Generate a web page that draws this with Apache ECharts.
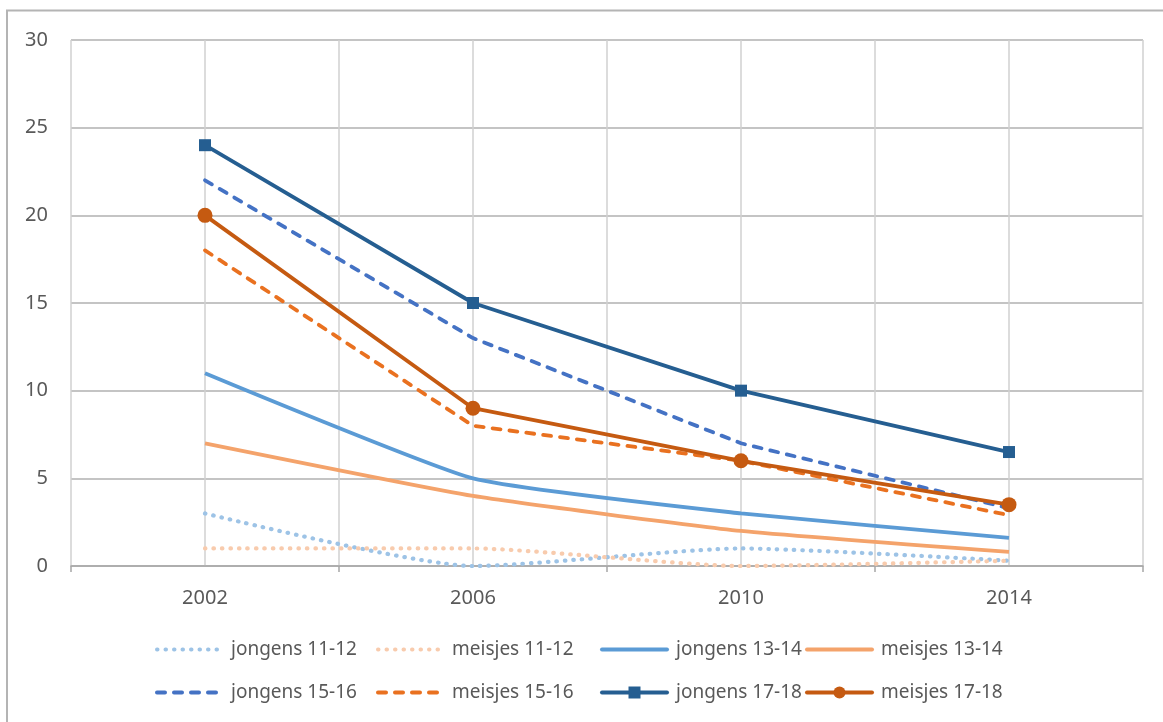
<!DOCTYPE html>
<html>
<head>
<meta charset="utf-8">
<script src="https://cdn.jsdelivr.net/npm/echarts@6/dist/echarts.min.js"></script>
<style>
html,body{margin:0;padding:0;background:#fff;}
#chart{width:1163px;height:722px;}
</style>
</head>
<body>
<div id="chart"></div>
<script>
const years = ['2002', '2006', '2010', '2014'];
const jongens1112 = [3, 0, 1, 0.3];
const meisjes1112 = [1, 1, 0, 0.3];
const jongens1314 = [11, 5, 3, 1.6];
const meisjes1314 = [7, 4, 2, 0.8];
const jongens1516 = [22, 13, 7, 3.3];
const meisjes1516 = [18, 8, 6, 2.9];
const jongens1718 = [24, 15, 10, 6.5];
const meisjes1718 = [20, 9, 6, 3.5];
const names = ['jongens 11-12', 'meisjes 11-12', 'jongens 13-14', 'meisjes 13-14',
               'jongens 15-16', 'meisjes 15-16', 'jongens 17-18', 'meisjes 17-18'];
const halfBands = ['a', 'b', 'c', 'd', 'e', 'f', 'g', 'h'];

const FONT = 'Noto Sans';
const TXT = '#595959';
const DOT = [0.5, 8];
const DASH = [8, 9];
const W = 3.8;

function lineSeries(name, data, color, opts) {
  return Object.assign({
    name: name,
    type: 'line',
    data: data,
    symbol: 'none',
    showSymbol: false,
    color: color,
    lineStyle: { color: color, width: W },
    itemStyle: { color: color },
    emphasis: { disabled: true },
    animation: false
  }, opts || {});
}

const series = [
  lineSeries(names[0], jongens1112, '#9DC3E6', { smooth: 0.2, lineStyle: { color: '#9DC3E6', width: 4.2, type: DOT, cap: 'round' } }),
  lineSeries(names[1], meisjes1112, '#F8CBAD', { smooth: 0.2, lineStyle: { color: '#F8CBAD', width: 4.2, type: DOT, cap: 'round' } }),
  lineSeries(names[2], jongens1314, '#5B9BD5', { smooth: 0.15 }),
  lineSeries(names[3], meisjes1314, '#F4A36B', { smooth: 0.15 }),
  lineSeries(names[4], jongens1516, '#4472C4', { lineStyle: { color: '#4472C4', width: W, type: DASH, cap: 'round' } }),
  lineSeries(names[5], meisjes1516, '#E97120', { lineStyle: { color: '#E97120', width: W, type: DASH, cap: 'round' } }),
  lineSeries(names[6], jongens1718, '#255E91', { symbol: 'rect', showSymbol: true, symbolSize: 12 }),
  lineSeries(names[7], meisjes1718, '#C55A11', { symbol: 'circle', showSymbol: true, symbolSize: 15 })
];

function legendItem(i) {
  if (i >= 6) return { name: names[i] };
  return { name: names[i], itemStyle: { opacity: 0 } };
}

function legendCol(left, idx) {
  return {
    orient: 'vertical',
    left: left,
    top: 635,
    itemWidth: 65,
    itemHeight: 15,
    itemGap: 24,
    data: idx.map(legendItem),
    selectedMode: false,
    lineStyle: { width: 4, cap: 'round' },
    textStyle: { fontFamily: FONT, fontSize: 19, color: TXT, padding: [0, 0, 0, 4] }
  };
}

const chart = echarts.init(document.getElementById('chart'), null, { renderer: 'canvas' });
chart.setOption({
  backgroundColor: '#fff',
  animation: false,
  graphic: [{
    type: 'rect',
    shape: { x: 7, y: 10.5, width: 1300, height: 900 },
    style: { fill: 'none', stroke: '#b4b4b4', lineWidth: 2 },
    silent: true
  }],
  grid: { left: 71, right: 20, top: 40, bottom: 156 },
  legend: [
    legendCol(150, [0, 4]),
    legendCol(371, [1, 5]),
    legendCol(595, [2, 6]),
    legendCol(800, [3, 7])
  ],
  xAxis: [{
    type: 'category',
    data: years,
    boundaryGap: true,
    axisLine: { show: true, lineStyle: { color: '#a6a6a6', width: 1.5 } },
    axisTick: { show: true, length: 6, lineStyle: { color: '#a6a6a6', width: 1.5 } },
    axisLabel: { fontFamily: FONT, fontSize: 20, color: TXT, margin: 22 },
    splitLine: { show: false },
    z: 3
  }, {
    type: 'category',
    data: halfBands,
    boundaryGap: true,
    position: 'bottom',
    axisLine: { show: false },
    axisTick: { show: false },
    axisLabel: { show: false },
    splitLine: { show: true, lineStyle: { color: '#d0d0d0', width: 1.5 } }
  }],
  yAxis: {
    type: 'value',
    min: 0,
    max: 30,
    interval: 5,
    axisLine: { show: false },
    axisTick: { show: false },
    axisLabel: { fontFamily: FONT, fontSize: 20, color: TXT, margin: 23 },
    splitLine: { show: true, lineStyle: { color: '#b0b0b0', width: 1.5 } }
  },
  series: series
});
</script>
</body>
</html>
